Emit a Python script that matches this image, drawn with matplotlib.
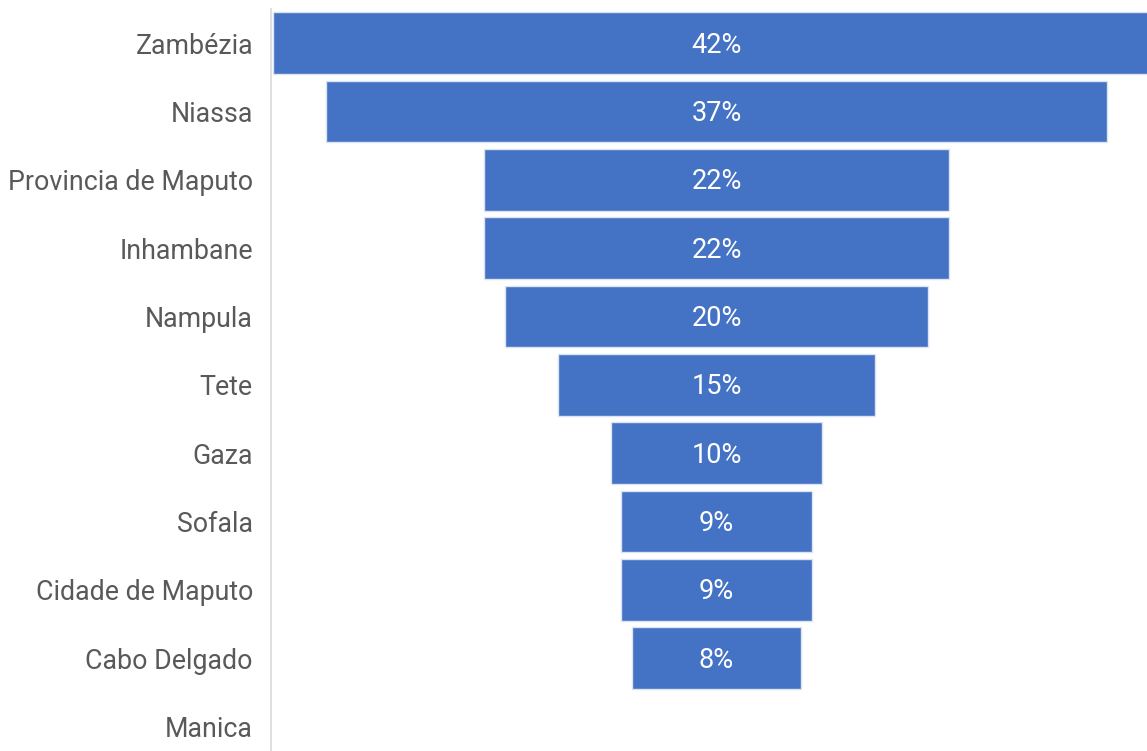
import matplotlib
matplotlib.use("Agg")
import matplotlib.pyplot as plt

provinces = ['Zambézia', 'Niassa', 'Provincia de Maputo', 'Inhambane', 'Nampula',
             'Tete', 'Gaza', 'Sofala', 'Cidade de Maputo', 'Cabo Delgado', 'Manica']
values = [42, 37, 22, 22, 20, 15, 10, 9, 9, 8, 0]

plt.rcParams['font.family'] = ['Roboto', 'DejaVu Sans']

fig = plt.figure(figsize=(11.47, 7.51), dpi=100)
ax = fig.add_axes([271 / 1147, 0, 1 - 271 / 1147, 742 / 751])

y = list(range(len(provinces)))
lefts = [-v / 2 for v in values]
for yi, v, l in zip(y, values, lefts):
    if v <= 0:
        continue
    ax.barh(yi, v, left=l, height=0.9, color='#4472C4', edgecolor='#dce3f3', linewidth=1)
    ax.text(0, yi + 0.03, f'{v}%', ha='center', va='center', color='white', fontsize=19.5)

ax.set_xlim(-21.09, 20.38)
ax.set_ylim(10.36, -0.5)
ax.set_yticks(y)
ax.set_yticklabels(provinces, fontsize=19.3, color='#595959')
ax.tick_params(axis='y', length=0, pad=13)
ax.set_xticks([])
for s in ['top', 'right', 'bottom']:
    ax.spines[s].set_visible(False)
ax.spines['left'].set_color('#d9d9d9')
ax.spines['left'].set_linewidth(1.2)

fig.savefig('out.png', dpi=100)
